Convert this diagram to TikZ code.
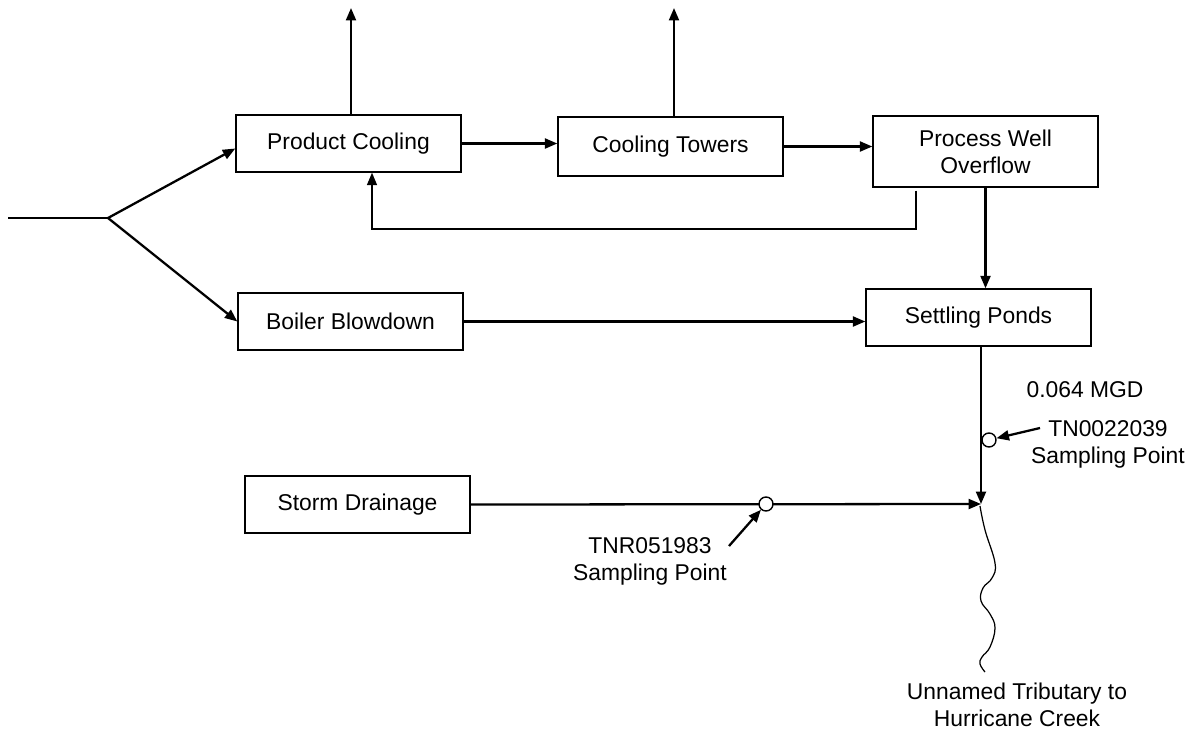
\documentclass[tikz,border=0pt]{standalone}
\usepackage{fontspec}
\setmainfont{Liberation Sans}
\usetikzlibrary{arrows.meta, positioning, calc}

\begin{document}
\begin{tikzpicture}[
                x=0.02cm, y=-0.02cm,
                every node/.style={align=center, font=\fontsize{13}{15.4}\selectfont},
                procbox/.style={rectangle, draw, line width=0.8pt, minimum width=4.5cm, minimum height=1.14cm, inner sep=0pt},
                flow/.style={-{Triangle[length=0.25cm, width=0.2cm]}, line width=1.3pt},
                back/.style={flow, line width=0.9pt},
                pipe/.style={line width=0.8pt},
                tap/.style={circle, draw, fill=white, line width=0.8pt, minimum size=0.28cm, inner sep=0pt},
                note/.style={inner sep=0pt}
            ]
                \useasboundingbox (0,0) rectangle (1199,730);
                % process units
                \node[procbox] (cool) at (348.5,143.5) {Product Cooling};
                \node[procbox, minimum height=1.18cm] (towers) at (670.5,146.5) {Cooling Towers};
                \node[procbox, minimum height=1.42cm] (well) at (985.5,151.5) {Process Well\\Overflow};
                \node[procbox] (ponds) at (978.5,317.5) {Settling Ponds};
                \node[procbox] (boiler) at (350.5,321.5) {Boiler Blowdown};
                \node[procbox] (storm) at (357.5,504.5) {Storm Drainage};

                \coordinate (src) at (8,218);
                \coordinate (split) at (108,218);
                \coordinate (coolvent) at (351,8);
                \coordinate (towervent) at (674,8);
                \coordinate (fb) at (916,229);
                \coordinate (jn) at (981,504);

                % supply split
                \draw[pipe] (src) -- (split);
                \draw[flow] (split) -- ($(cool.west)+(0,5)$);
                \draw[flow] (split) -- (boiler.west);

                % main flows
                \draw[flow] (cool.north -| coolvent) -- (coolvent);
                \draw[flow] (towers.north -| towervent) -- (towervent);
                \draw[flow] (cool.east) -- (towers.west |- cool.east);
                \draw[flow] (towers.east) -- (well.west |- towers.east);
                \draw[back] ($(well.south -| fb)+(0,3)$) -- (fb) -| ($(cool.south)+(23.5,0)$);
                \draw[flow] (well.south) -- (ponds.north -| well.south);
                \draw[flow] (boiler.east) -- (ponds.west |- boiler.east);
                \draw[flow] (ponds.south -| jn) -- (jn);
                \draw[flow] (storm.east) -- (jn);

                % receiving stream
                \draw[line width=0.7pt] plot[smooth, tension=0.7] coordinates {(980,506) (985,530) (995,563) (992,578) (983,588) (981,601) (990,614) (995,628) (990,647) (982,657) (980,664) (985,672)};

                % sampling points
                \node[tap] (tap1) at (989,440) {};
                \node[tap] (tap2) at (766,504) {};
                \node[note] (mgd) at (1085,390) {0.064 MGD};
                \node[note] (tn1) at (1108,444) {TN0022039\\Sampling Point};
                \node[note] (tn2) at (650,561) {TNR051983\\Sampling Point};
                \node[note] (trib) at (1017,705) {Unnamed Tributary to\\Hurricane Creek};
                \coordinate (tn1tail) at (1040,428);
                \coordinate (tn2tail) at (729,546);
                \draw[flow] (tn1tail) -- (tap1);
                \draw[flow] (tn2tail) -- (tap2);
            \end{tikzpicture}
\end{document}
